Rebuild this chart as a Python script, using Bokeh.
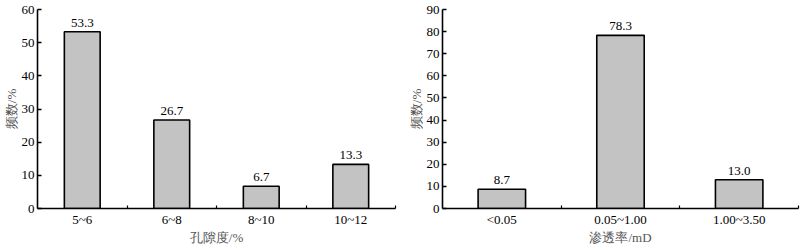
import numpy as np
from bokeh.plotting import figure
from bokeh.layouts import row
from bokeh.models import FixedTicker, SingleIntervalTicker, Range1d, ColumnDataSource
from bokeh.core.properties import value
from bokeh.embed import file_html
from bokeh.resources import INLINE

poro_cats = ["5~6", "6~8", "8~10", "10~12"]
poro_vals = [53.3, 26.7, 6.7, 13.3]
perm_cats = ["<0.05", "0.05~1.00", "1.00~3.50"]
perm_vals = [8.7, 78.3, 13.0]

FONT = "Liberation Serif"


def make(cats, vals, ymax, xlabel, width, mbl, mbr):
    n = len(cats)
    xs = np.arange(n) + 0.5
    src = ColumnDataSource(dict(x=xs, top=vals, lab=[f"{v:.1f}" for v in vals]))
    p = figure(width=width, height=247, output_backend="svg", toolbar_location=None,
               x_range=Range1d(0, n), y_range=Range1d(0, ymax),
               min_border_left=mbl, min_border_right=mbr, min_border_top=9, min_border_bottom=28)
    p.outline_line_color = None
    p.grid.visible = False
    p.vbar(x="x", top="top", width=0.4, bottom=0, source=src,
           fill_color="#c3c3c3", line_color="black", line_width=1.6)
    p.text(x="x", y="top", text="lab", source=src, text_align="center", text_baseline="bottom",
           y_offset=-5, text_font=value(FONT), text_font_size="13px", text_color="#000000")
    xa = p.xaxis[0]
    xa.ticker = FixedTicker(ticks=list(xs), minor_ticks=list(np.arange(1, n + 1)))
    xa.major_label_overrides = {float(x): c for x, c in zip(xs, cats)}
    xa.major_tick_in = 0
    xa.major_tick_out = 0
    xa.minor_tick_in = 3
    xa.minor_tick_out = 0
    xa.minor_tick_line_color = "black"
    xa.minor_tick_line_width = 1.2
    xa.axis_label = xlabel
    ya = p.yaxis[0]
    ya.ticker = SingleIntervalTicker(interval=10)
    ya.major_tick_in = 4
    ya.major_tick_out = 0
    ya.minor_tick_in = 0
    ya.minor_tick_out = 0
    ya.axis_label = "频数/%"
    for ax in (xa, ya):
        ax.axis_line_color = "black"
        ax.axis_line_width = 1.6
        ax.major_tick_line_color = "black"
        ax.major_tick_line_width = 1.4
        ax.major_label_text_font = FONT
        ax.major_label_text_font_size = "13px"
        ax.major_label_text_color = "black"
        ax.axis_label_text_font = FONT
        ax.axis_label_text_font_size = "13px"
        ax.axis_label_text_font_style = "normal"
        ax.axis_label_text_color = "#555555"
        ax.axis_label_standoff = 0
        ax.major_label_standoff = 3
    return p


p1 = make(poro_cats, poro_vals, 60, "孔隙度/%", 400, 31, 5)
p2 = make(perm_cats, perm_vals, 90, "渗透率/mD", 400, 42, 2)
p = row(p1, p2, spacing=0)

open("out.html", "w").write(file_html(p, INLINE))
